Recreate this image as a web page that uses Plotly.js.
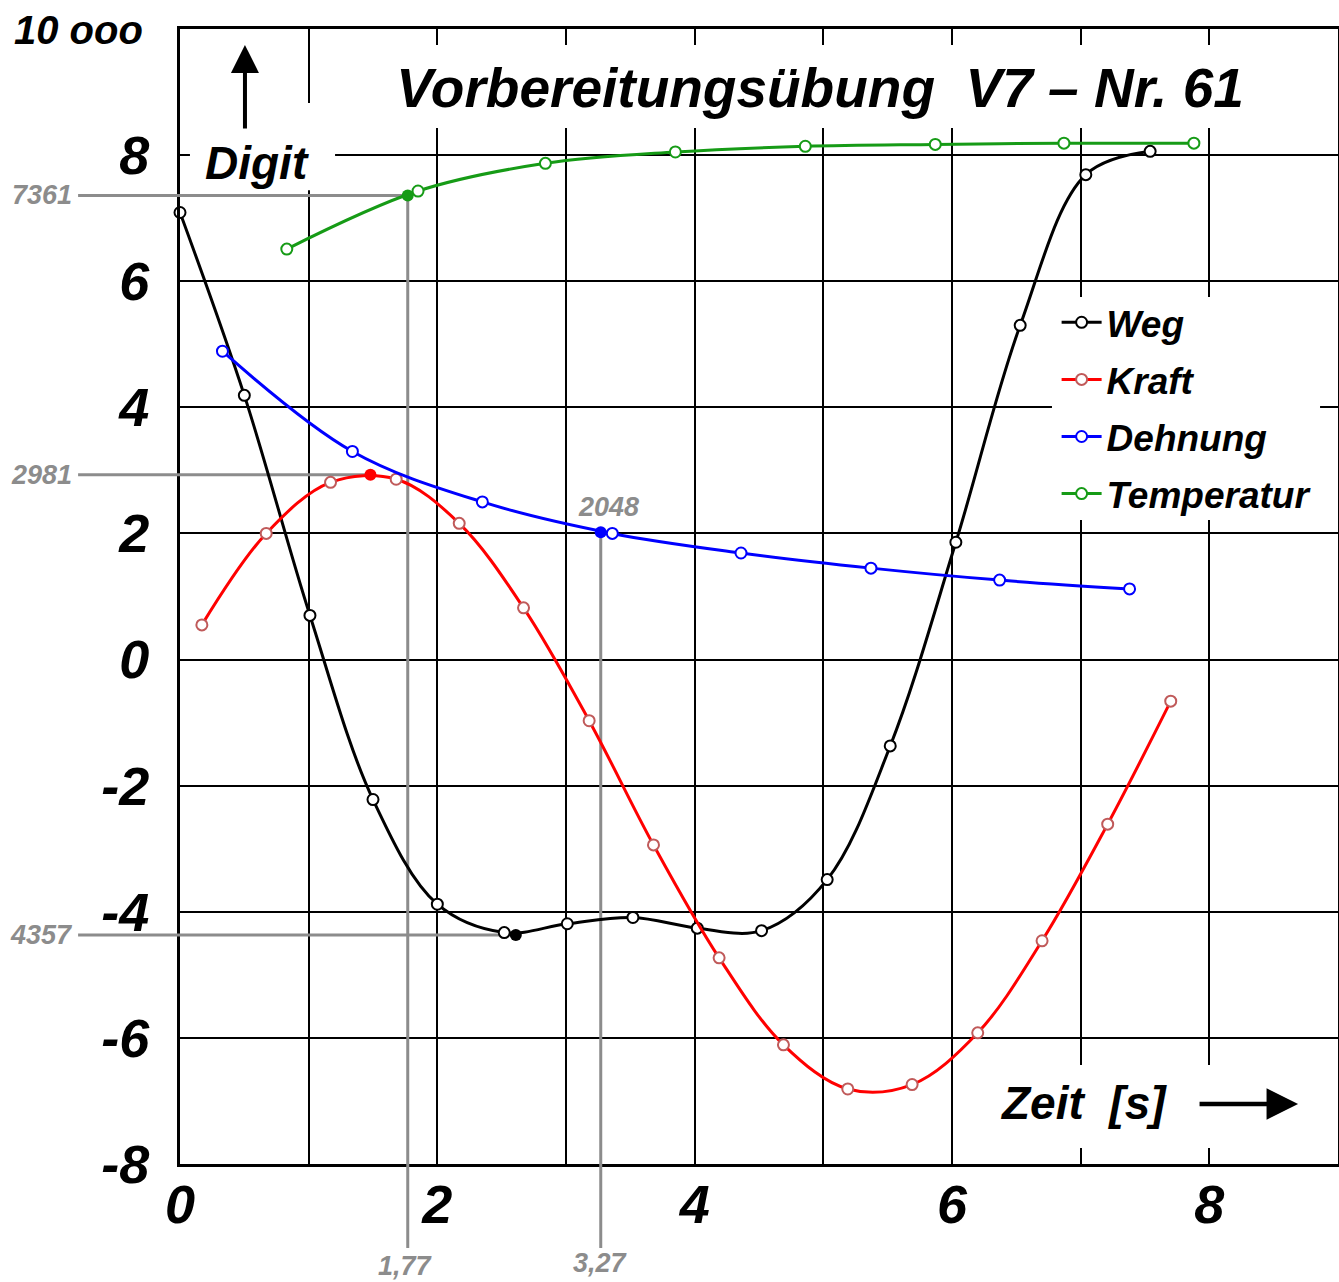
<!DOCTYPE html>
<html>
<head>
<meta charset="utf-8">
<script src="https://cdn.plot.ly/plotly-3.0.1.min.js"></script>
<style>html,body{margin:0;padding:0;background:#fff;}</style>
</head>
<body>
<div id="chart" style="width:1339px;height:1282px;"></div>
<script>
// ---------- data (time in s, value in 1000 digit) ----------
const wegX = [0.00, 0.50, 1.01, 1.50, 2.00, 2.52, 3.01, 3.52, 4.02, 4.52, 5.03, 5.52, 6.03, 6.53, 7.04, 7.54];
const wegY = [7.09, 4.19, 0.70, -2.22, -3.88, -4.33, -4.19, -4.09, -4.26, -4.30, -3.49, -1.37, 1.86, 5.30, 7.69, 8.06];

const kraftX = [0.17, 0.67, 1.17, 1.68, 2.17, 2.67, 3.18, 3.68, 4.19, 4.69, 5.19, 5.69, 6.20, 6.70, 7.21, 7.70];
const kraftY = [0.55, 2.00, 2.81, 2.86, 2.16, 0.82, -0.97, -2.94, -4.73, -6.11, -6.81, -6.74, -5.92, -4.46, -2.61, -0.66];

const dehnungX = [0.33, 1.34, 2.35, 3.36, 4.36, 5.37, 6.37, 7.38];
const dehnungY = [4.89, 3.30, 2.50, 2.00, 1.69, 1.45, 1.26, 1.12];

const tempX = [0.83, 1.85, 2.84, 3.85, 4.86, 5.87, 6.87, 7.88];
const tempY = [6.51, 7.43, 7.87, 8.05, 8.14, 8.17, 8.19, 8.19];

// highlighted (read-off) points: Weg, Kraft, Dehnung, Temperatur
const markX = [2.61, 1.48, 3.27, 1.77];
const markY = [-4.37, 2.93, 2.02, 7.36];
const markLabels = ['4357', '2981', '2048', '7361'];
const timeLabels = ['1,77', '3,27'];

const seriesNames = ['Weg', 'Kraft', 'Dehnung', 'Temperatur'];
const xTickVals = [0, 2, 4, 6, 8];
const yTickVals = [-8, -6, -4, -2, 0, 2, 4, 6, 8];
const yTickText = ['-8', '-6', '-4', '-2', '0', '2', '4', '6', '8'];
const topLabel = '10 ooo';

// ---------- styles ----------
const colors = ['#000000', '#ff0000', '#0000ff', '#169b16'];
const markerLine = ['#000000', '#c05a5a', '#0000ff', '#169b16'];
const F = 'Liberation Sans, Arial, sans-serif';
const GRAY = '#8c8c8c';

const xs = [wegX, kraftX, dehnungX, tempX];
const ys = [wegY, kraftY, dehnungY, tempY];

const traces = [];
for (let i = 0; i < 4; i++) {
  traces.push({
    type: 'scatter', mode: 'lines+markers', name: seriesNames[i],
    x: xs[i], y: ys[i], legendgroup: 'g' + i,
    line: {color: colors[i], width: 3, shape: 'spline', smoothing: 1},
    marker: {symbol: 'circle', size: 11, color: '#ffffff', line: {color: markerLine[i], width: 2}},
    cliponaxis: false
  });
}
for (let i = 0; i < 4; i++) {
  traces.push({
    type: 'scatter', mode: 'markers', showlegend: false, legendgroup: 'g' + i,
    x: [markX[i]], y: [markY[i]],
    marker: {symbol: 'circle', size: 12, color: colors[i]},
    hoverinfo: 'x+y'
  });
}

const shapes = [];
// white masks behind the texts (gridlines interrupted there)
const masks = [
  [0.1813, 0.9128, 0.9257, 0.9859],
  [0.0086, 0.8580, 0.1339, 0.9348],
  [0.7530, 0.5674, 0.9845, 0.7639],
  [0.6779, 0.0141, 0.9758, 0.0872]
];
masks.forEach(m => shapes.push({type: 'rect', xref: 'paper', yref: 'paper', x0: m[0], y0: m[1], x1: m[2], y1: m[3],
  fillcolor: '#ffffff', line: {width: 0}, layer: 'above'}));

const gl = {color: GRAY, width: 3};
// horizontal read-off lines for Weg, Kraft, Temperatur
[0, 1, 3].forEach(i => {
  shapes.push({type: 'line', xref: 'paper', yref: 'y', x0: -0.088, x1: 0, y0: markY[i], y1: markY[i], line: gl, layer: 'above'});
  shapes.push({type: 'line', xref: 'x', yref: 'y', x0: 0, x1: markX[i], y0: markY[i], y1: markY[i], line: gl, layer: 'between'});
});
// vertical read-off lines for Temperatur and Dehnung
[3, 2].forEach(i => {
  shapes.push({type: 'line', xref: 'x', yref: 'y', x0: markX[i], x1: markX[i], y0: markY[i], y1: -8, line: gl, layer: 'between'});
  shapes.push({type: 'line', xref: 'x', yref: 'paper', x0: markX[i], x1: markX[i], y0: 0, y1: -0.074, line: gl, layer: 'above'});
});

const grayFont = {family: F, size: 27, color: GRAY, weight: 'bold', style: 'italic'};
const annotations = [
  {xref: 'paper', yref: 'paper', x: -0.0302, y: 0.9991, xanchor: 'right', yanchor: 'middle', showarrow: false,
   text: topLabel, font: {family: F, size: 40, color: '#000', weight: 'bold', style: 'italic'}},
  {xref: 'paper', yref: 'paper', x: 0.0665, y: 0.8819, xanchor: 'center', yanchor: 'middle', showarrow: false,
   text: 'Digit', font: {family: F, size: 46, color: '#000', weight: 'bold', style: 'italic'}},
  {xref: 'paper', yref: 'paper', x: 0.0561, y: 0.9859, ax: 0, ay: 85, axref: 'pixel', ayref: 'pixel', text: '',
   showarrow: true, arrowhead: 2, arrowsize: 1.4, arrowwidth: 4, arrowcolor: '#000'},
  {xref: 'paper', yref: 'paper', x: 0.7798, y: 0.0537, xanchor: 'center', yanchor: 'middle', showarrow: false,
   text: 'Zeit\u00a0\u00a0[s]', font: {family: F, size: 46, color: '#000', weight: 'bold', style: 'italic'}},
  {xref: 'paper', yref: 'paper', x: 0.9655, y: 0.0529, ax: -100, ay: 0, axref: 'pixel', ayref: 'pixel', text: '',
   showarrow: true, arrowhead: 2, arrowsize: 1.4, arrowwidth: 4.5, arrowcolor: '#000'},
  // value labels
  {xref: 'paper', yref: 'y', x: -0.1192, y: markY[3], xanchor: 'center', yanchor: 'middle', showarrow: false, text: markLabels[3], font: grayFont},
  {xref: 'paper', yref: 'y', x: -0.1192, y: markY[1], xanchor: 'center', yanchor: 'middle', showarrow: false, text: markLabels[1], font: grayFont},
  {xref: 'paper', yref: 'y', x: -0.1200, y: markY[0], xanchor: 'center', yanchor: 'middle', showarrow: false, text: markLabels[0], font: grayFont},
  {xref: 'x', yref: 'y', x: markX[2], y: markY[2], xshift: 8, yshift: 25, xanchor: 'center', yanchor: 'middle', showarrow: false, text: markLabels[2], font: grayFont},
  {xref: 'x', yref: 'paper', x: markX[3], y: -0.0899, xshift: -2, xanchor: 'center', yanchor: 'middle', showarrow: false, text: timeLabels[0], font: grayFont},
  {xref: 'x', yref: 'paper', x: markX[2], y: -0.0872, xanchor: 'center', yanchor: 'middle', showarrow: false, text: timeLabels[1], font: grayFont}
];

const tickFont = {family: F, size: 54, color: '#000', weight: 'bold', style: 'italic'};

const layout = {
  width: 1339, height: 1282,
  margin: {l: 180, r: 1, t: 29, b: 118},
  paper_bgcolor: '#ffffff', plot_bgcolor: '#ffffff',
  title: {text: 'Vorbereitungsübung\u00a0\u00a0V7 – Nr. 61', xref: 'paper', x: 0.5527, xanchor: 'center',
          yref: 'container', y: 0.9314, yanchor: 'middle',
          font: {family: F, size: 55, color: '#000', weight: 'bold', style: 'italic'}},
  showlegend: true,
  legend: {x: 0.757, y: 0.7685, xanchor: 'left', yanchor: 'top', bgcolor: 'rgba(0,0,0,0)', borderwidth: 0,
           tracegroupgap: 6, traceorder: 'grouped', itemwidth: 40,
           font: {family: F, size: 37, color: '#000', weight: 'bold', style: 'italic'}},
  xaxis: {range: [0, 9], tickvals: xTickVals, showgrid: true, gridcolor: '#000', gridwidth: 2,
          minor: {dtick: 1, showgrid: true, gridcolor: '#000', gridwidth: 2},
          showline: true, linecolor: '#000', linewidth: 3, mirror: true, zeroline: false,
          ticks: '', ticklabelstandoff: -9, tickfont: tickFont, fixedrange: true},
  yaxis: {range: [-8, 10], tickvals: yTickVals, ticktext: yTickText, showgrid: true, gridcolor: '#000', gridwidth: 2,
          showline: true, linecolor: '#000', linewidth: 3, mirror: true, zeroline: false,
          ticks: '', ticklabelstandoff: 17, tickfont: tickFont, fixedrange: true},
  shapes: shapes,
  annotations: annotations
};

Plotly.newPlot('chart', traces, layout, {displayModeBar: false, staticPlot: true});
</script>
</body>
</html>
